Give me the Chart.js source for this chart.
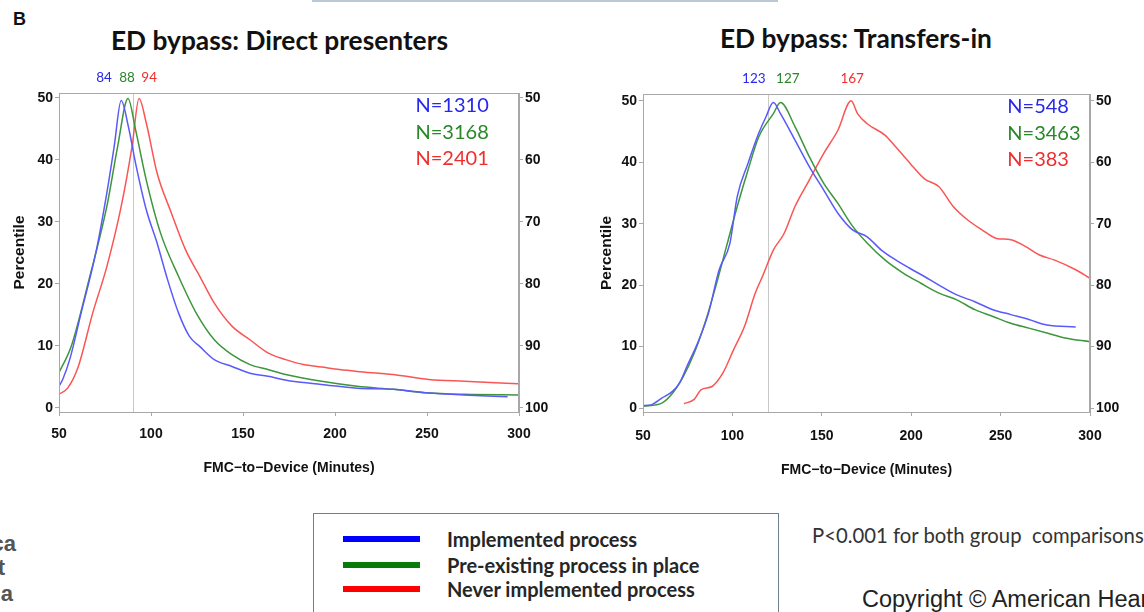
<!DOCTYPE html>
<html>
<head>
<meta charset="utf-8">
<script src="https://cdn.jsdelivr.net/npm/chart.js@4.4.1/dist/chart.umd.min.js"></script>
<style>
  body { margin: 0; width: 1144px; height: 612px; background: #fff; position: relative; overflow: hidden; font-family: Lato, sans-serif; }
  .abs { position: absolute; white-space: nowrap; }
  canvas { position: absolute; }
  .title { font-weight: bold; font-size: 26.3px; line-height: 32px; color: #111; }
  .legend-box { left: 313px; top: 513px; width: 466px; height: 120px; border: 1.5px solid #6f7f90; box-sizing: border-box; }
  .legend-row { position: absolute; left: 29px; height: 26px; }
  .legend-row span.sw { position: absolute; left: 0; top: 10px; width: 77px; height: 6px; }
  .legend-row span.tx { position: absolute; left: 104px; top: 0; font-weight: bold; font-size: 20px; color: #262626; line-height: 26px; }
  .cut { font-family: 'Liberation Sans', Arial, sans-serif; font-weight: bold; font-size: 22px; line-height: 26px; color: #555; text-align: right; }
</style>
</head>
<body>
<div class="abs" style="left:312px;top:0;width:466px;height:2px;background:#bcc7d6;"></div>
<div class="abs" style="left:13px;top:9px;font-family:'Liberation Sans',Arial,sans-serif;font-weight:bold;font-size:18px;color:#111;">B</div>
<div class="abs title" style="left:111px;top:24px;">ED bypass: Direct presenters</div>
<div class="abs title" style="left:720px;top:22px;">ED bypass: Transfers-in</div>

<canvas id="directChart" width="570" height="430" style="left:0;top:60px;width:570px;height:430px;"></canvas>
<canvas id="transferChart" width="564" height="430" style="left:580px;top:60px;width:564px;height:430px;"></canvas>

<div class="abs legend-box">
  <div class="legend-row" style="top:12px;"><span class="sw" style="background:#0000ff"></span><span class="tx">Implemented process</span></div>
  <div class="legend-row" style="top:38px;"><span class="sw" style="background:#0a7a0a"></span><span class="tx">Pre-existing process in place</span></div>
  <div class="legend-row" style="top:62px;"><span class="sw" style="background:#ff0000"></span><span class="tx">Never implemented process</span></div>
</div>
<div class="abs" style="left:812px;top:523px;font-size:20.3px;color:#333;">P&lt;0.001 for both group&nbsp; comparisons</div>
<div class="abs" style="left:862px;top:586px;font-family:'Liberation Sans',Arial,sans-serif;font-size:23.5px;color:#222;">Copyright © American Heart Association</div>
<div class="abs cut" style="right:1128px;top:531px;">ca</div>
<div class="abs cut" style="right:1139px;top:555px;">t</div>
<div class="abs cut" style="right:1131px;top:581px;">a</div>

<script>
// Direct presenters (left panel)
const directBlueMin = [50, 52, 56, 62, 70, 76, 80, 83.8, 87.7, 91.6, 97.4, 103.3, 109, 115, 120.8, 126.6, 134.4, 144, 153.8, 163.5, 177, 192.7, 212, 231.6, 251, 270, 293.8];
const directBlueVal = [3.5, 4.6, 8, 15.3, 25, 34.7, 42.2, 49.6, 45.4, 39.5, 32, 26.6, 20.7, 15.3, 11.6, 9.9, 7.8, 6.7, 5.6, 5.1, 4.3, 3.8, 3.2, 3.0, 2.4, 2.1, 1.8];
const directGreenMin = [50, 56.6, 66.3, 76, 81.9, 87.5, 91.6, 97.4, 105.2, 115, 124.6, 134.4, 144, 153.8, 163.5, 173.2, 192.7, 212, 231.6, 251, 270.4, 300];
const directGreenVal = [5.7, 9.9, 20.7, 32.5, 42.2, 49.9, 44.9, 36.8, 28.2, 21.2, 15.3, 11, 8.6, 7, 6.2, 5.4, 4.3, 3.5, 3.0, 2.4, 2.2, 2.1];
const directRedMin = [50, 54.7, 60.5, 68.3, 76, 83.8, 89.7, 93.5, 97.4, 103.3, 111, 118.8, 126.6, 134.4, 144, 153.8, 163.5, 173.2, 182.8, 192.7, 202.4, 212, 231.6, 251, 270.4, 299.6];
const directRedVal = [2.2, 3.2, 6.7, 15.3, 22.8, 32.5, 42.2, 49.9, 46, 37.9, 31.5, 25.5, 21.2, 16.9, 13.2, 11, 8.9, 7.8, 7.0, 6.6, 6.2, 5.9, 5.4, 4.6, 4.3, 3.9];

// Transfers-in (right panel)
const transferBlueMin = [50, 54.4, 60.5, 66.5, 70.5, 74.6, 80.6, 86.6, 92.6, 98.6, 102.7, 108.7, 114.7, 118.8, 122.9, 126.9, 135, 143, 151, 159, 167.2, 175.2, 183.3, 191.3, 199.4, 207.4, 215.5, 225.5, 235.6, 245.7, 255.7, 265.8, 275.9, 292];
const transferBlueVal = [0.4, 0.5, 1.6, 2.7, 4.1, 6.8, 10.6, 15.4, 22.5, 26.8, 34.4, 39.8, 44.7, 47.4, 49.7, 47.9, 43.6, 39.3, 35.5, 31.7, 29, 27.9, 25.7, 24.1, 22.7, 21.4, 20, 18.4, 17.3, 16, 15.2, 14.4, 13.5, 13.2];
const transferGreenMin = [50, 60.5, 66.5, 72.5, 78.6, 84.6, 90.7, 96.7, 102.7, 108.7, 114.7, 122.9, 126.9, 135, 143, 151, 159, 167.2, 175.2, 185.3, 195.3, 205.4, 215.5, 225.5, 235.6, 245.7, 255.7, 265.8, 275.9, 286, 300];
const transferGreenVal = [0.3, 0.8, 2.4, 5.1, 8.9, 13.8, 19.8, 26.3, 32.8, 38.7, 44.1, 47.9, 49.7, 45.8, 40.9, 36.6, 33.3, 29.6, 26.9, 24.1, 22, 20.3, 18.7, 17.6, 16, 14.9, 13.8, 13, 12.2, 11.4, 10.8];
const transferRedMin = [72.9, 78.6, 82.6, 88.6, 94.7, 100.7, 106.8, 112.8, 116.8, 122.9, 128.9, 135, 143, 151, 159, 166.4, 170, 175.2, 185.3, 191.3, 199.4, 207.4, 215.5, 223.5, 231.6, 239.6, 247.7, 255.7, 263.8, 271.8, 279.9, 292, 300];
const transferRedVal = [0.7, 1.4, 3, 3.5, 5.7, 9.5, 13.3, 18.7, 21.4, 25.7, 28.4, 32.8, 37.1, 41.4, 45.2, 50, 47.9, 46.3, 44.4, 42.5, 39.8, 37.3, 36, 32.8, 30.6, 29, 27.6, 27.4, 26.3, 24.9, 24.1, 22.5, 21.1];

const xTicks = [50, 100, 150, 200, 250, 300];
const yTicks = [0, 10, 20, 30, 40, 50];
const groupNames = ['Implemented process', 'Pre-existing process in place', 'Never implemented process'];
const directN = ['N=1310', 'N=3168', 'N=2401'];
const transferN = ['N=548', 'N=3463', 'N=383'];
const directMedians = ['84', '88', '94'];
const transferMedians = ['123', '127', '167'];

const lineColors = ['rgb(90,90,250)', 'rgb(60,150,60)', 'rgb(250,85,85)'];
const textColors = ['rgb(40,40,235)', 'rgb(40,135,40)', 'rgb(240,45,45)'];
const tickFont = { family: "'Liberation Sans', Arial, sans-serif", size: 14, weight: 'bold' };
const xTitleFont = { family: "'Liberation Sans', Arial, sans-serif", size: 14, weight: 'bold' };
const yTitleFont = { family: "'Liberation Sans', Arial, sans-serif", size: 15.5, weight: 'bold' };

function pts(xs, ys) {
  return xs.map((x, i) => ({ x: x, y: ys[i] }));
}

// frame, reference line, medians above the plot, N counts inside
const decorPlugin = {
  id: 'decor',
  beforeDatasetsDraw(chart, args, opts) {
    const { ctx, chartArea: a, scales } = chart;
    const rx = scales.x.getPixelForValue(opts.refX);
    ctx.save();
    ctx.strokeStyle = '#c9c9c9';
    ctx.lineWidth = 1;
    ctx.beginPath();
    ctx.moveTo(Math.round(rx) + 0.5, a.top);
    ctx.lineTo(Math.round(rx) + 0.5, a.bottom);
    ctx.stroke();
    ctx.restore();
  },
  afterDraw(chart, args, opts) {
    const { ctx, chartArea: a, scales } = chart;
    ctx.save();
    ctx.strokeStyle = '#a8a8a8';
    ctx.lineWidth = 1;
    ctx.strokeRect(a.left + 0.5, a.top + 0.5, a.right - a.left - 1, a.bottom - a.top);

    ctx.font = '13.5px Lato, sans-serif';
    ctx.textAlign = 'center';
    ctx.textBaseline = 'middle';
    opts.medians.forEach((m, i) => {
      ctx.fillStyle = textColors[i];
      ctx.fillText(m, scales.x.getPixelForValue(opts.medianX[i]), a.top - 15);
    });

    ctx.font = '20px Lato, sans-serif';
    ctx.textAlign = 'left';
    opts.counts.forEach((n, i) => {
      ctx.fillStyle = textColors[i];
      ctx.fillText(n, a.left + (a.right - a.left) * opts.countX, a.top + 13 + i * 26.5);
    });
    ctx.restore();
  }
};

function makeChart(canvas, series, cfg) {
  return new Chart(canvas, {
    type: 'line',
    data: {
      datasets: series.map((s, i) => ({
        label: groupNames[i],
        data: s,
        borderColor: lineColors[i],
        borderWidth: 1.5,
        pointRadius: 0,
        fill: false,
        cubicInterpolationMode: 'monotone'
      }))
    },
    plugins: [decorPlugin],
    options: {
      responsive: false,
      animation: false,
      layout: { padding: { top: cfg.padTop, left: 0, right: 0, bottom: 0 } },
      plugins: {
        legend: { display: false },
        tooltip: { enabled: false },
        decor: { refX: cfg.refX, medians: cfg.medians, medianX: cfg.medianX, counts: cfg.counts, countX: cfg.countX }
      },
      scales: {
        x: {
          type: 'linear',
          min: 50,
          max: 300,
          afterBuildTicks: s => { s.ticks = xTicks.map(v => ({ value: v })); },
          afterFit: s => { s.height = cfg.xHeight; },
          grid: { drawOnChartArea: false, drawTicks: true, tickLength: 4, color: '#a8a8a8' },
          border: { display: true, color: '#a8a8a8' },
          ticks: { font: tickFont, color: '#111', padding: cfg.xTickPad, maxRotation: 0 },
          title: { display: true, text: 'FMC\u2212to\u2212Device (Minutes)', font: xTitleFont, color: '#111', padding: { top: 0, bottom: cfg.xTitlePad } }
        },
        y: {
          position: 'left',
          min: -0.65,
          max: cfg.yMax,
          afterBuildTicks: s => { s.ticks = yTicks.map(v => ({ value: v })); },
          afterFit: s => { s.width = cfg.yWidth; },
          grid: { drawOnChartArea: false, drawTicks: true, tickLength: 4, color: '#a8a8a8' },
          border: { display: true, color: '#a8a8a8' },
          ticks: { font: tickFont, color: '#111', padding: 2 },
          title: { display: true, text: 'Percentile', font: yTitleFont, color: '#111', padding: { top: cfg.yTitlePad, bottom: 0 } }
        },
        y2: {
          position: 'right',
          min: -0.65,
          max: cfg.yMax,
          afterBuildTicks: s => { s.ticks = yTicks.map(v => ({ value: v })); },
          afterFit: s => { s.width = cfg.y2Width; },
          grid: { drawOnChartArea: false, drawTicks: true, tickLength: 4, color: '#a8a8a8' },
          border: { display: true, color: '#a8a8a8' },
          ticks: { font: tickFont, color: '#111', padding: 2, callback: v => String(100 - v) }
        }
      }
    }
  });
}

makeChart(document.getElementById('directChart'), [
  pts(directBlueMin, directBlueVal),
  pts(directGreenMin, directGreenVal),
  pts(directRedMin, directRedVal)
], {
  padTop: 33, xHeight: 78, yWidth: 59, y2Width: 51, yMax: 50.8,
  xTickPad: 10, xTitlePad: 13, yTitlePad: 10, refX: 90,
  medians: directMedians, medianX: [74.5, 87, 99], counts: directN, countX: 0.775
});

makeChart(document.getElementById('transferChart'), [
  pts(transferBlueMin, transferBlueVal),
  pts(transferGreenMin, transferGreenVal),
  pts(transferRedMin, transferRedVal)
], {
  padTop: 34, xHeight: 78, yWidth: 63, y2Width: 54, yMax: 51.1,
  xTickPad: 12, xTitlePad: 11, yTitlePad: 17, refX: 120,
  medians: transferMedians, medianX: [112, 131, 167], counts: transferN, countX: 0.815
});
</script>
</body>
</html>
